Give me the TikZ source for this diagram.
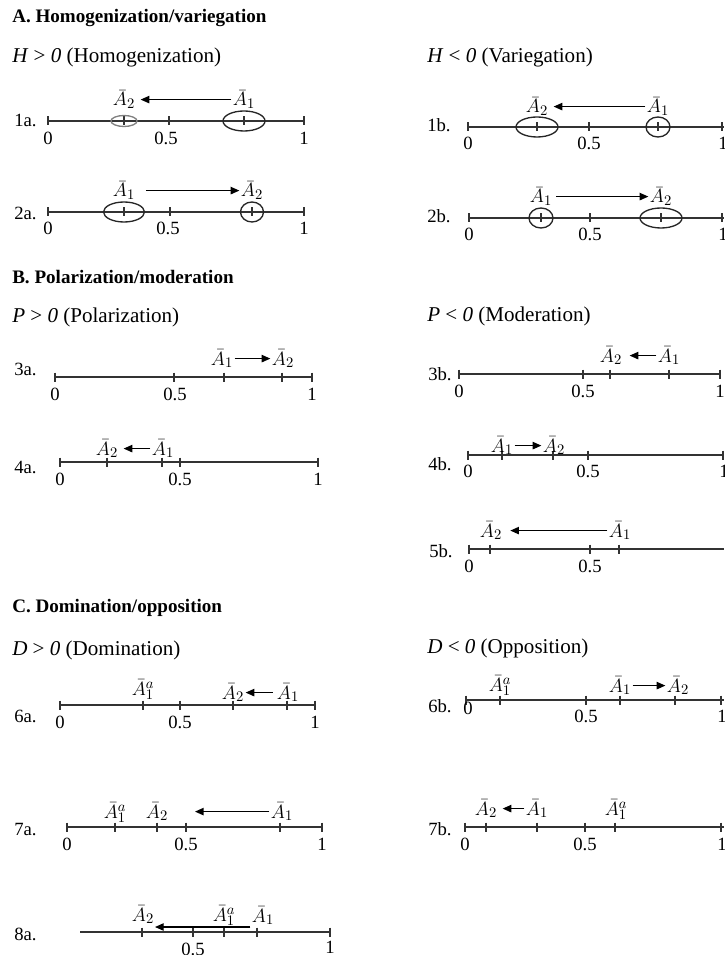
\documentclass[tikz,border=0pt]{standalone}
\usepackage{fontspec}
\setmainfont{Liberation Serif}
\usetikzlibrary{arrows.meta,positioning}

\tikzset{
  axis/.style={draw=black!80, line width=1pt},
  tickmark/.style={draw=black!80, line width=0.9pt},
  blob/.style={draw=black!85, line width=1pt},
  mv/.style={-{Triangle[length=6.5pt,width=5.5pt]}, line width=1pt},
  val/.style={anchor=base, inner sep=1pt, font=\fontsize{15}{17}\selectfont},
  num/.style={anchor=base, inner sep=0pt},
  row/.style={anchor=base west, inner sep=0pt},
  head/.style={anchor=base west, inner sep=0pt, font=\fontsize{14.3}{17}\selectfont},
  sub/.style={anchor=base west, inner sep=0pt, font=\fontsize{15.8}{18}\selectfont},
}

\begin{document}
\begin{tikzpicture}[x=0.75pt, y=-0.75pt, font=\fontsize{14}{16}\selectfont]
  \useasboundingbox (0,0) rectangle (724,955);

  % ===== A. Homogenization/variegation =====
  \node[head] (tA) at (12,23) {\textbf{A. Homogenization/variegation}};
  \node[sub] (hpos) at (12,63) {\textit{H} > \textit{0} (Homogenization)};
  \node[sub] (hneg) at (427,63) {\textit{H} < \textit{0} (Variegation)};

  % 1a
  \node[row] (r1a) at (14,127) {1a.};
  \draw[axis] (48,121) -- (304,121);
  \foreach \x in {48,124,169,244,304} \draw[tickmark] (\x,121) ++(0,-4.5) -- ++(0,9);
  \draw[blob, draw=gray] (124,121) ellipse (13 and 5.5);
  \draw[blob] (244,121) ellipse (21 and 10);
  \node[num] (z1a) at (48,145) {0};
  \node[num] (h1a) at (166,145) {0.5};
  \node[num] (o1a) at (304,145) {1};
  \node[val] (p1a) at (124,106) {$\bar{A}_2$};
  \node[val] (q1a) at (244,106) {$\bar{A}_1$};
  \draw[mv, shorten >=3pt] (q1a) -- (p1a);

  % 2a
  \node[row] (r2a) at (14,220) {2a.};
  \draw[axis] (48,212) -- (304,212);
  \foreach \x in {48,124,170,252,304} \draw[tickmark] (\x,212) ++(0,-4.5) -- ++(0,9);
  \draw[blob] (124,212) ellipse (20.5 and 10);
  \draw[blob] (252,212) ellipse (11.5 and 10);
  \node[num] (z2a) at (48,235) {0};
  \node[num] (h2a) at (168,235) {0.5};
  \node[num] (o2a) at (304,235) {1};
  \node[val] (q2a) at (124,197) {$\bar{A}_1$};
  \node[val] (p2a) at (252,197) {$\bar{A}_2$};
  \draw[mv, shorten <=7pt] (q2a) -- (p2a);

  % 1b
  \node[row] (r1b) at (427,132) {1b.};
  \draw[axis] (468,127) -- (724,127);
  \foreach \x in {468,537,589,658,722} \draw[tickmark] (\x,127) ++(0,-4.5) -- ++(0,9);
  \draw[blob] (537,127) ellipse (21 and 10);
  \draw[blob] (658,127) ellipse (12 and 10);
  \node[num] (z1b) at (468,150) {0};
  \node[num] (h1b) at (589,150) {0.5};
  \node[num] (o1b) at (723,150) {1};
  \node[val] (p1b) at (537,113) {$\bar{A}_2$};
  \node[val] (q1b) at (658,113) {$\bar{A}_1$};
  \draw[mv, shorten >=3pt] (q1b) -- (p1b);

  % 2b
  \node[row] (r2b) at (427,223) {2b.};
  \draw[axis] (469,218) -- (724,218);
  \foreach \x in {469,541,590,661,722} \draw[tickmark] (\x,218) ++(0,-4.5) -- ++(0,9);
  \draw[blob] (541,218) ellipse (12 and 10);
  \draw[blob] (661,218) ellipse (21 and 10);
  \node[num] (z2b) at (469,241) {0};
  \node[num] (h2b) at (590,241) {0.5};
  \node[num] (o2b) at (723,241) {1};
  \node[val] (q2b) at (541,203) {$\bar{A}_1$};
  \node[val] (p2b) at (661,203) {$\bar{A}_2$};
  \draw[mv, shorten <=2pt] (q2b) -- (p2b);

  % ===== B. Polarization/moderation =====
  \node[head] (tB) at (12,283) {\textbf{B. Polarization/moderation}};
  \node[sub] (ppos) at (12,322) {\textit{P} > \textit{0} (Polarization)};
  \node[sub] (pneg) at (427,321) {\textit{P} < \textit{0} (Moderation)};

  % 3a
  \node[row] (r3a) at (14,375) {3a.};
  \draw[axis] (55,377) -- (312,377);
  \foreach \x in {55,174,224,282,312} \draw[tickmark] (\x,377) ++(0,-4.5) -- ++(0,9);
  \node[num] (z3a) at (55,400) {0};
  \node[num] (h3a) at (175,400) {0.5};
  \node[num] (o3a) at (312,400) {1};
  \node[val] (q3a) at (222,365) {$\bar{A}_1$};
  \node[val] (p3a) at (283,365) {$\bar{A}_2$};
  \draw[mv] (q3a) -- (p3a);

  % 4a
  \node[row] (r4a) at (14,473) {4a.};
  \draw[axis] (60,462) -- (318,462);
  \foreach \x in {60,107,162,180,318} \draw[tickmark] (\x,462) ++(0,-4.5) -- ++(0,9);
  \node[num] (z4a) at (60,485) {0};
  \node[num] (h4a) at (180,485) {0.5};
  \node[num] (o4a) at (318,485) {1};
  \node[val] (p4a) at (107,455) {$\bar{A}_2$};
  \node[val] (q4a) at (163,455) {$\bar{A}_1$};
  \draw[mv, shorten >=3pt] (q4a) -- (p4a);

  % 3b
  \node[row] (r3b) at (428,380) {3b.};
  \draw[axis] (459,374) -- (720,374);
  \foreach \x in {459,583,610,669,720} \draw[tickmark] (\x,374) ++(0,-4.5) -- ++(0,9);
  \node[num] (z3b) at (459,397) {0};
  \node[num] (h3b) at (583,397) {0.5};
  \node[num] (o3b) at (720,397) {1};
  \node[val] (p3b) at (611,362) {$\bar{A}_2$};
  \node[val] (q3b) at (669,362) {$\bar{A}_1$};
  \draw[mv, shorten >=4.5pt] (q3b) -- (p3b);

  % 4b
  \node[row] (r4b) at (428,470) {4b.};
  \draw[axis] (468,455) -- (724,455);
  \foreach \x in {468,502,553,588,723} \draw[tickmark] (\x,455) ++(0,-4.5) -- ++(0,9);
  \node[num] (z4b) at (468,477) {0};
  \node[num] (h4b) at (588,477) {0.5};
  \node[num] (o4b) at (724,477) {1};
  \node[val] (q4b) at (502,452) {$\bar{A}_1$};
  \node[val] (p4b) at (554,452) {$\bar{A}_2$};
  \draw[mv] (q4b) -- (p4b);

  % 5b
  \node[row] (r5b) at (429,557) {5b.};
  \draw[axis] (469,549) -- (724,549);
  \foreach \x in {469,490,590,619} \draw[tickmark] (\x,549) ++(0,-4.5) -- ++(0,9);
  \node[num] (z5b) at (469,572) {0};
  \node[num] (h5b) at (590,572) {0.5};
  \node[val] (p5b) at (491,537) {$\bar{A}_2$};
  \node[val] (q5b) at (620,537) {$\bar{A}_1$};
  \draw[mv, shorten >=5pt] (q5b) -- (p5b);

  % ===== C. Domination/opposition =====
  \node[head] (tC) at (12,612) {\textbf{C. Domination/opposition}};
  \node[sub] (dpos) at (12,655) {\textit{D} > \textit{0} (Domination)};
  \node[sub] (dneg) at (427,653) {\textit{D} < \textit{0} (Opposition)};

  % 6a
  \node[row] (r6a) at (14,722) {6a.};
  \draw[axis] (60,705) -- (315,705);
  \foreach \x in {60,143,180,233,287,315} \draw[tickmark] (\x,705) ++(0,-4.5) -- ++(0,9);
  \node[num] (z6a) at (60,728) {0};
  \node[num] (h6a) at (180,728) {0.5};
  \node[num] (o6a) at (315,728) {1};
  \node[val] (s6a) at (143,695) {$\bar{A}_1^{a}$};
  \node[val] (p6a) at (233,699) {$\bar{A}_2$};
  \node[val] (q6a) at (288,699) {$\bar{A}_1$};
  \draw[mv, shorten <=2pt] (q6a) -- (p6a);

  % 7a
  \node[row] (r7a) at (14,835) {7a.};
  \draw[axis] (67,827) -- (322,827);
  \foreach \x in {67,115,157,186,280,322} \draw[tickmark] (\x,827) ++(0,-4.5) -- ++(0,9);
  \node[num] (z7a) at (67,850) {0};
  \node[num] (h7a) at (186,850) {0.5};
  \node[num] (o7a) at (322,850) {1};
  \node[val] (s7a) at (115,818) {$\bar{A}_1^{a}$};
  \node[val] (p7a) at (157,818) {$\bar{A}_2$};
  \node[val] (q7a) at (282,818) {$\bar{A}_1$};
  \draw[mv, shorten >=19pt] (q7a) -- (p7a);

  % 8a
  \node[row] (r8a) at (14,940) {8a.};
  \draw[axis] (80,932) -- (330,932);
  \foreach \x in {142,193,224,257,330} \draw[tickmark] (\x,932) ++(0,-4.5) -- ++(0,9);
  \node[num] (h8a) at (193,955) {0.5};
  \node[num] (o8a) at (330,953) {1};
  \node[val] (p8a) at (143,921) {$\bar{A}_2$};
  \node[val] (s8a) at (224,921) {$\bar{A}_1^{a}$};
  \node[val] (q8a) at (263,922) {$\bar{A}_1$};
  \coordinate (e8a) at (155,927);
  \draw[mv] (q8a.west |- e8a) -- (e8a);

  % 6b
  \node[row] (r6b) at (428,712) {6b.};
  \draw[axis] (466,700) -- (724,700);
  \foreach \x in {466,500,586,620,675,721} \draw[tickmark] (\x,700) ++(0,-4.5) -- ++(0,9);
  \node[num] (z6b) at (468,714) {0};
  \node[num] (h6b) at (586,722) {0.5};
  \node[num] (o6b) at (722,722) {1};
  \node[val] (s6b) at (500,691) {$\bar{A}_1^{a}$};
  \node[val] (q6b) at (620,692) {$\bar{A}_1$};
  \node[val] (p6b) at (678,692) {$\bar{A}_2$};
  \draw[mv] (q6b) -- (p6b);

  % 7b
  \node[row] (r7b) at (428,835) {7b.};
  \draw[axis] (465,827) -- (724,827);
  \foreach \x in {465,486,537,585,615,721} \draw[tickmark] (\x,827) ++(0,-4.5) -- ++(0,9);
  \node[num] (z7b) at (465,850) {0};
  \node[num] (h7b) at (585,850) {0.5};
  \node[num] (o7b) at (722,850) {1};
  \node[val] (p7b) at (486,815) {$\bar{A}_2$};
  \node[val] (q7b) at (537,815) {$\bar{A}_1$};
  \node[val] (s7b) at (616,815) {$\bar{A}_1^{a}$};
  \draw[mv, shorten >=3pt] (q7b) -- (p7b);
\end{tikzpicture}
\end{document}
